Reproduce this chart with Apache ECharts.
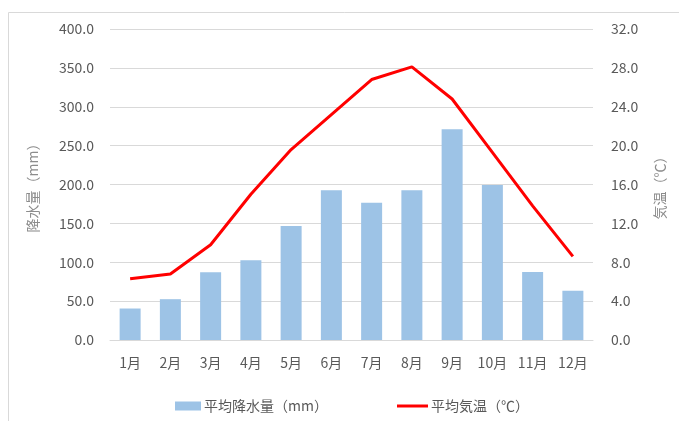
<!DOCTYPE html>
<html><head><meta charset="utf-8">
<script src="https://cdn.jsdelivr.net/npm/echarts@6/dist/echarts.min.js"></script>
<style>html,body{margin:0;padding:0;background:#fff;}#c{width:679px;height:421px;}</style>
</head><body><div id="c"></div>
<script>
const categories = ['1月','2月','3月','4月','5月','6月','7月','8月','9月','10月','11月','12月'];
const rainfall = [40.5, 52.5, 87.0, 102.5, 146.5, 192.5, 176.5, 192.5, 271.0, 199.5, 87.5, 63.5];
const temperature = [6.3, 6.8, 9.8, 15.0, 19.6, 23.2, 26.8, 28.1, 24.8, 19.3, 13.8, 8.6];
const leftTicks = {min: 0, max: 400, interval: 50};
const rightTicks = {min: 0, max: 32, interval: 4};
const FONT = '"Noto Sans CJK JP", "Noto Sans", sans-serif';
const chart = echarts.init(document.getElementById('c'));
chart.setOption({
  animation: false,
  textStyle: {fontFamily: FONT},
  graphic: [{type: 'rect', shape: {x: 8.5, y: 12.5, width: 680, height: 420}, style: {fill: 'none', stroke: '#d9d9d9', lineWidth: 1}, silent: true}],
  grid: {left: 110, right: 86, top: 29, bottom: 81},
  legend: [{
    left: 170, top: 394, itemWidth: 26, itemHeight: 9, itemGap: 4,
    textStyle: {color: '#595959', fontSize: 14, fontFamily: FONT, padding: [0, 0, 0, -2]},
    data: [{name: '平均降水量（mm）', icon: 'rect'}]
  }, {
    left: 392, top: 394, itemWidth: 31, itemHeight: 3, itemGap: 4,
    textStyle: {color: '#595959', fontSize: 14, fontFamily: FONT, padding: [0, 0, 0, -2]},
    data: [{name: '平均気温（℃）', icon: 'rect'}]
  }],
  xAxis: {
    type: 'category', data: categories,
    axisLine: {lineStyle: {color: '#d9d9d9'}}, axisTick: {show: false},
    axisLabel: {color: '#595959', fontSize: 14, margin: 16, fontFamily: FONT}
  },
  yAxis: [{
    type: 'value', min: leftTicks.min, max: leftTicks.max, interval: leftTicks.interval,
    name: '降水量（mm）', nameLocation: 'middle', nameRotate: 90, nameGap: 70,
    nameTextStyle: {color: '#8c8c8c', fontSize: 14, fontFamily: FONT},
    axisLabel: {color: '#595959', fontSize: 14, margin: 16, formatter: v => v.toFixed(1), fontFamily: FONT},
    splitLine: {lineStyle: {color: '#d9d9d9'}}, axisLine: {show: false}, axisTick: {show: false}
  }, {
    type: 'value', min: rightTicks.min, max: rightTicks.max, interval: rightTicks.interval,
    name: '気温（℃）', nameLocation: 'middle', nameRotate: 90, nameGap: 60,
    nameTextStyle: {color: '#8c8c8c', fontSize: 14, fontFamily: FONT},
    axisLabel: {color: '#595959', fontSize: 14, margin: 18, formatter: v => v.toFixed(1), fontFamily: FONT},
    splitLine: {show: false}, axisLine: {show: false}, axisTick: {show: false}
  }],
  series: [{
    name: '平均降水量（mm）', type: 'bar', data: rainfall, barWidth: 21,
    itemStyle: {color: '#9dc3e6'}
  }, {
    name: '平均気温（℃）', type: 'line', yAxisIndex: 1, data: temperature,
    symbol: 'none', lineStyle: {color: '#ff0000', width: 3}, itemStyle: {color: '#ff0000'}
  }]
});
</script></body></html>
